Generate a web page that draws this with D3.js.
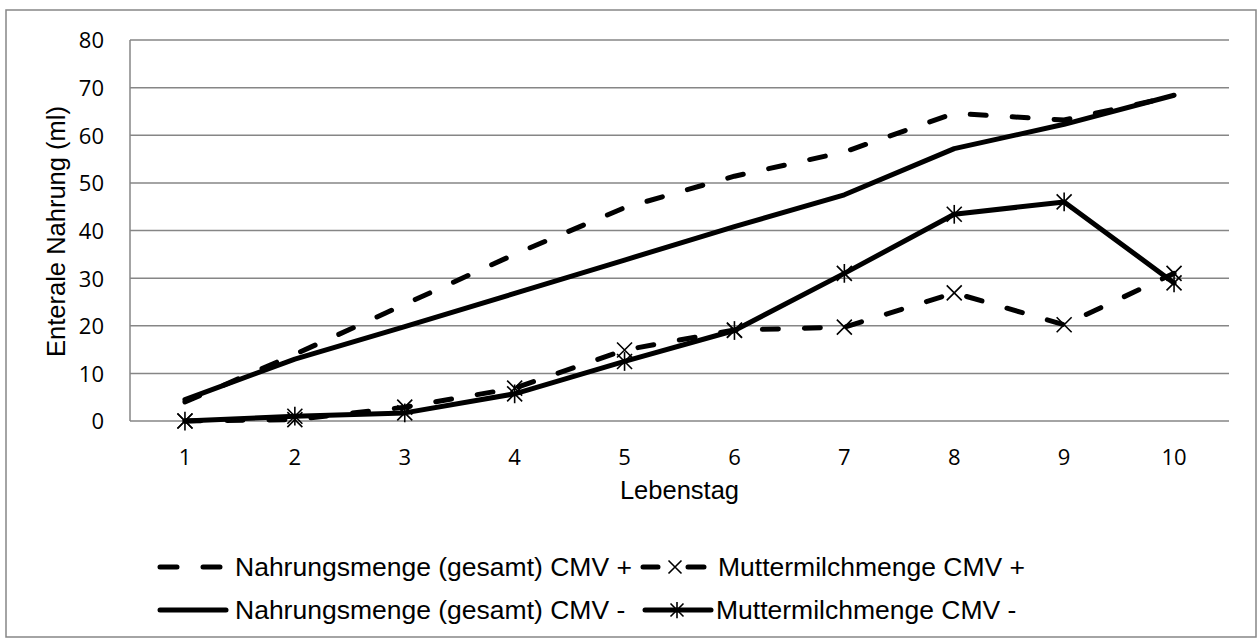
<!DOCTYPE html>
<html><head><meta charset="utf-8">
<script src="https://cdn.jsdelivr.net/npm/d3@7/dist/d3.min.js"></script>
<style>body{margin:0;background:#fff}svg{display:block}</style>
</head><body>
<script>
const days = [1,2,3,4,5,6,7,8,9,10];
const yTicks = [0,10,20,30,40,50,60,70,80];
const nahrungPlus  = [4, 14, 24.5, 35, 44.8, 51.4, 56.5, 64.6, 63.2, 68.2];
const nahrungMinus = [4.5, 13, 19.8, 26.8, 33.8, 40.8, 47.5, 57.2, 62.3, 68.4];
const milchPlus    = [0, 0.3, 2.9, 6.9, 14.9, 19.1, 19.7, 26.9, 20.2, 31.0];
const milchMinus   = [0, 1, 1.7, 5.7, 12.5, 19.0, 31.0, 43.4, 46.0, 29.0];
const seriesNames = ["Nahrungsmenge (gesamt) CMV +", "Muttermilchmenge CMV +", "Nahrungsmenge (gesamt) CMV -", "Muttermilchmenge CMV -"];

const W = 1257, H = 638;
const svg = d3.select("body").append("svg").attr("width", W).attr("height", H);
svg.append("rect").attr("x",6).attr("y",10).attr("width",1250).attr("height",627)
  .attr("fill","#fff").attr("stroke","#868686").attr("stroke-width",1.5);

const pLeft = 130, pRight = 1229, pTop = 40, pBottom = 421;
const x = d3.scaleBand().domain(days).range([pLeft, pRight]);
const y = d3.scaleLinear().domain([0,80]).range([pBottom, pTop]);
const xc = d => x(d) + x.bandwidth()/2;

svg.append("g").selectAll("line").data(yTicks).join("line")
  .attr("x1", pLeft).attr("x2", pRight).attr("y1", d=>y(d)).attr("y2", d=>y(d))
  .attr("stroke","#868686").attr("stroke-width",1.5);
svg.append("line").attr("x1",pLeft).attr("x2",pLeft).attr("y1",pTop).attr("y2",pBottom)
  .attr("stroke","#868686").attr("stroke-width",1.5);

const tickFont = "'Open Sans', sans-serif";
const yAxis = d3.axisLeft(y).tickValues(yTicks).tickSize(0).tickPadding(0);
const gy = svg.append("g").attr("transform",`translate(104,0)`).call(yAxis);
gy.select(".domain").remove();
gy.selectAll("text").attr("font-family",tickFont).attr("font-size",22).attr("fill","#000").attr("dy","0.36em");

const xAxis = d3.axisBottom(x).tickSize(0).tickPadding(0);
const gx = svg.append("g").attr("transform",`translate(0,${pBottom})`).call(xAxis);
gx.select(".domain").remove();
gx.selectAll("text").attr("font-family",tickFont).attr("font-size",22).attr("fill","#000")
  .attr("y", 36).attr("dy", "0.36em");

const titleFont = "'Liberation Sans', Arial, sans-serif";
svg.append("text").attr("x", (pLeft+pRight)/2).attr("y", 490).attr("text-anchor","middle")
  .attr("dominant-baseline","central")
  .attr("font-family",titleFont).attr("font-size",25.5).text("Lebenstag");
svg.append("text").attr("transform",`translate(64.5,${(pTop+pBottom)/2 + 1}) rotate(-90)`)
  .attr("text-anchor","middle")
  .attr("font-family",titleFont).attr("font-size",25.5).text("Enterale Nahrung (ml)");

const line = d3.line().x((d,i)=>xc(days[i])).y(d=>y(d));
const DASH = "16,26";
function drawLine(data, dashed){
  svg.append("path").datum(data).attr("d", line).attr("fill","none")
    .attr("stroke","#000").attr("stroke-width",5)
    .attr("stroke-linecap","round").attr("stroke-linejoin","round")
    .attr("stroke-dasharray", dashed ? DASH : null);
}
function cross(g, cx, cy, s){
  g.append("path").attr("d",`M${cx-s},${cy-s}L${cx+s},${cy+s}M${cx-s},${cy+s}L${cx+s},${cy-s}`)
    .attr("stroke","#000").attr("stroke-width",1.6).attr("fill","none");
}
function star(g, cx, cy, s){
  cross(g, cx, cy, s);
  g.append("path").attr("d",`M${cx},${cy-s*1.25}L${cx},${cy+s*1.25}`)
    .attr("stroke","#000").attr("stroke-width",1.6);
}

drawLine(nahrungPlus, true);
drawLine(nahrungMinus, false);
drawLine(milchPlus, true);
drawLine(milchMinus, false);
const mk = svg.append("g");
milchPlus.forEach((v,i)=>cross(mk, xc(days[i]), y(v), 7.5));
milchMinus.forEach((v,i)=>star(mk, xc(days[i]), y(v), 7.5));

// legend
const lg = svg.append("g").attr("font-family",titleFont).attr("font-size",26.5);
const rows = [567, 610];
lg.append("path").attr("d",`M160,${rows[0]}L177,${rows[0]}M203,${rows[0]}L220,${rows[0]}`).attr("stroke","#000").attr("stroke-width",5)
  .attr("stroke-linecap","round");
lg.append("text").attr("x",235).attr("y",rows[0]).attr("dy","0.35em").text(seriesNames[0]);
lg.append("path").attr("d",`M643,${rows[0]}L658,${rows[0]}M688,${rows[0]}L704,${rows[0]}`).attr("stroke","#000").attr("stroke-width",5).attr("stroke-linecap","round");
cross(lg, 675, rows[0], 6.5);
lg.append("text").attr("x",718).attr("y",rows[0]).attr("dy","0.35em").text(seriesNames[1]);
lg.append("path").attr("d",`M160,${rows[1]}L226,${rows[1]}`).attr("stroke","#000").attr("stroke-width",5).attr("stroke-linecap","round");
lg.append("text").attr("x",235).attr("y",rows[1]).attr("dy","0.35em").text(seriesNames[2]);
lg.append("path").attr("d",`M645,${rows[1]}L711,${rows[1]}`).attr("stroke","#000").attr("stroke-width",5).attr("stroke-linecap","round");
star(lg, 677, rows[1], 6.5);
lg.append("text").attr("x",716).attr("y",rows[1]).attr("dy","0.35em").text(seriesNames[3]);
</script>
</body></html>
